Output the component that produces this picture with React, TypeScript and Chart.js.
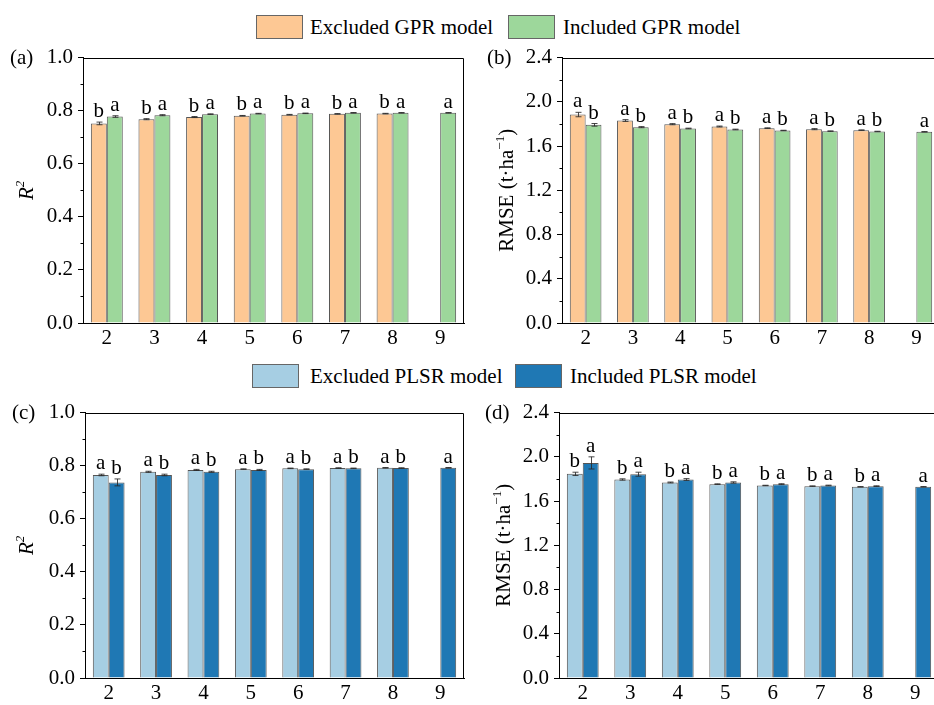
import React, { useEffect, useRef } from 'react';
import { Chart, registerables } from 'chart.js';
Chart.register(...registerables);

const FONT = "'Liberation Serif', 'Times New Roman', serif";

// ---------- DATA ----------
const categories = ['2', '3', '4', '5', '6', '7', '8', '9'];

const gprLabels = ['Excluded GPR model', 'Included GPR model'];
const plsrLabels = ['Excluded PLSR model', 'Included PLSR model'];

// (a) GPR R2
const gprR2Excluded = [0.752, 0.768, 0.776, 0.781, 0.785, 0.788, 0.789, null];
const gprR2Included = [0.778, 0.783, 0.787, 0.789, 0.790, 0.792, 0.792, 0.792];
const gprR2ExcludedErr = [0.005, 0.002, 0.002, 0.001, 0.001, 0.001, 0.001, 0];
const gprR2IncludedErr = [0.003, 0.002, 0.001, 0.001, 0.001, 0.001, 0.001, 0.001];
const gprR2ExcludedLetters = ['b', 'b', 'b', 'b', 'b', 'b', 'b', ''];
const gprR2IncludedLetters = ['a', 'a', 'a', 'a', 'a', 'a', 'a', 'a'];

// (b) GPR RMSE
const gprRmseExcluded = [1.885, 1.831, 1.798, 1.777, 1.762, 1.753, 1.744, null];
const gprRmseIncluded = [1.792, 1.771, 1.759, 1.750, 1.741, 1.735, 1.732, 1.729];
const gprRmseExcludedErr = [0.02, 0.008, 0.005, 0.004, 0.003, 0.005, 0.002, 0];
const gprRmseIncludedErr = [0.012, 0.005, 0.003, 0.003, 0.002, 0.002, 0.002, 0.002];
const gprRmseExcludedLetters = ['a', 'a', 'a', 'a', 'a', 'a', 'a', ''];
const gprRmseIncludedLetters = ['b', 'b', 'b', 'b', 'b', 'b', 'b', 'a'];

// (c) PLSR R2
const plsrR2Excluded = [0.765, 0.777, 0.784, 0.787, 0.790, 0.791, 0.792, null];
const plsrR2Included = [0.737, 0.765, 0.777, 0.784, 0.787, 0.790, 0.791, 0.792];
const plsrR2ExcludedErr = [0.003, 0.002, 0.002, 0.001, 0.001, 0.001, 0.001, 0];
const plsrR2IncludedErr = [0.013, 0.003, 0.002, 0.002, 0.001, 0.001, 0.001, 0.001];
const plsrR2ExcludedLetters = ['a', 'a', 'a', 'a', 'a', 'a', 'a', ''];
const plsrR2IncludedLetters = ['b', 'b', 'b', 'b', 'b', 'b', 'b', 'a'];

// (d) PLSR RMSE
const plsrRmseExcluded = [1.846, 1.795, 1.768, 1.753, 1.741, 1.735, 1.729, null];
const plsrRmseIncluded = [1.945, 1.843, 1.795, 1.768, 1.753, 1.741, 1.735, 1.729];
const plsrRmseExcludedErr = [0.015, 0.006, 0.004, 0.003, 0.002, 0.002, 0.002, 0];
const plsrRmseIncludedErr = [0.055, 0.018, 0.008, 0.006, 0.004, 0.003, 0.003, 0.002];
const plsrRmseExcludedLetters = ['b', 'b', 'b', 'b', 'b', 'b', 'b', ''];
const plsrRmseIncludedLetters = ['a', 'a', 'a', 'a', 'a', 'a', 'a', 'a'];

const r2Ticks = { min: 0, max: 1.0, step: 0.2, minor: 0.1 };
const rmseTicks = { min: 0, max: 2.4, step: 0.4, minor: 0.2 };

// ---------- STYLE ----------
const COLORS = {
  gprEx: '#FDC894',
  gprIn: '#9DD79B',
  plsrEx: '#A6CEE3',
  plsrIn: '#1F78B4',
  border: '#555555',
};

const annotatePlugin = {
  id: 'annotate',
  afterDatasetsDraw(chart: any) {
    const { ctx } = chart;
    const ys = chart.scales.y;
    ctx.save();
    chart.data.datasets.forEach((ds: any, i: number) => {
      const meta = chart.getDatasetMeta(i);
      meta.data.forEach((el: any, j: number) => {
        const v = ds.data[j];
        if (v == null) return;
        const e = ds.errors[j] || 0;
        const x = Math.round(el.x) + 0.5;
        const yt = ys.getPixelForValue(v + e);
        const yb = ys.getPixelForValue(v - e);
        if (e > 0) {
          ctx.strokeStyle = 'rgba(40,40,40,0.85)';
          ctx.lineWidth = 1;
          ctx.beginPath();
          ctx.moveTo(x, yt);
          ctx.lineTo(x, yb);
          ctx.moveTo(x - 3, yt);
          ctx.lineTo(x + 3, yt);
          ctx.moveTo(x - 3, yb);
          ctx.lineTo(x + 3, yb);
          ctx.stroke();
        }
        const letter = ds.letters[j];
        if (letter) {
          ctx.fillStyle = '#000';
          ctx.font = `21px ${FONT}`;
          ctx.textAlign = 'center';
          ctx.textBaseline = 'alphabetic';
          ctx.fillText(letter, el.x, yt - 5);
        }
      });
    });
    ctx.restore();
  },
  afterDraw(chart: any, _args: any, opts: any) {
    const { ctx, chartArea } = chart;
    const ys = chart.scales.y;
    ctx.save();
    // frame top & right
    ctx.strokeStyle = '#000';
    ctx.lineWidth = 1;
    ctx.beginPath();
    const t = Math.round(chartArea.top) + 0.5;
    const r = Math.round(chartArea.right) - 0.5;
    ctx.moveTo(chartArea.left, t);
    ctx.lineTo(r, t);
    ctx.lineTo(r, chartArea.bottom);
    ctx.stroke();
    // minor ticks
    ctx.beginPath();
    const lx = Math.round(chartArea.left) + 0.5;
    for (let v = opts.minor; v < opts.max; v += opts.minor * 2) {
      const y = Math.round(ys.getPixelForValue(v)) + 0.5;
      ctx.moveTo(lx - 3, y);
      ctx.lineTo(lx, y);
    }
    ctx.stroke();
    // panel label
    ctx.fillStyle = '#000';
    ctx.font = `21px ${FONT}`;
    ctx.textAlign = 'left';
    ctx.textBaseline = 'middle';
    ctx.fillText(opts.label, opts.labelX, chartArea.top + 1);
    // axis title
    const cy = (chartArea.top + chartArea.bottom) / 2;
    ctx.translate(opts.titleX, cy);
    ctx.rotate(-Math.PI / 2);
    ctx.textBaseline = 'alphabetic';
    let total = 0;
    const segs = opts.title as { text: string; font: string; dy: number }[];
    segs.forEach((s) => {
      ctx.font = s.font;
      total += ctx.measureText(s.text).width;
    });
    let x = -total / 2;
    segs.forEach((s) => {
      ctx.font = s.font;
      ctx.fillText(s.text, x, s.dy);
      x += ctx.measureText(s.text).width;
    });
    ctx.restore();
  },
};

const r2Title = [
  { text: 'R', font: `italic 21px ${FONT}`, dy: 0 },
  { text: '2', font: `italic 13px ${FONT}`, dy: -9 },
];
const rmseTitle = [
  { text: 'RMSE (t\u00B7ha', font: `21px ${FONT}`, dy: 0 },
  { text: '\u22121', font: `13px ${FONT}`, dy: -9 },
  { text: ')', font: `21px ${FONT}`, dy: 0 },
];

type PanelProps = {
  left: number; top: number; width: number; height: number;
  yWidth: number; xHeight: number; padTop: number; padRight: number;
  ex: (number | null)[]; inc: (number | null)[];
  exErr: number[]; incErr: number[];
  exLetters: string[]; incLetters: string[];
  labels: string[]; colors: [string, string];
  ticks: { min: number; max: number; step: number; minor: number };
  label: string; labelX: number; title: any; titleX: number;
};

function Panel(p: PanelProps) {
  const ref = useRef<HTMLCanvasElement>(null);
  useEffect(() => {
    if (!ref.current) return;
    const chart = new Chart(ref.current, {
      type: 'bar',
      data: {
        labels: categories,
        datasets: [
          {
            label: p.labels[0], data: p.ex as any, backgroundColor: p.colors[0],
            borderColor: COLORS.border, borderWidth: 1,
            errors: p.exErr, letters: p.exLetters,
          } as any,
          {
            label: p.labels[1], data: p.inc as any, backgroundColor: p.colors[1],
            borderColor: COLORS.border, borderWidth: 1,
            errors: p.incErr, letters: p.incLetters,
          } as any,
        ],
      },
      options: {
        responsive: false,
        animation: false,
        events: [],
        devicePixelRatio: 1,
        layout: { padding: { top: p.padTop, right: p.padRight, left: 0, bottom: 0 } },
        datasets: { bar: { categoryPercentage: 0.67, barPercentage: 1.0 } },
        plugins: {
          legend: { display: false },
          tooltip: { enabled: false },
          annotate: {
            minor: p.ticks.minor, max: p.ticks.max,
            label: p.label, labelX: p.labelX, title: p.title, titleX: p.titleX,
          },
        } as any,
        scales: {
          x: {
            grid: { display: false, drawTicks: false },
            border: { display: true, color: '#000', width: 1 },
            ticks: { color: '#000', font: { family: FONT, size: 21 }, padding: 3, maxRotation: 0 },
            afterFit: (s: any) => { s.height = p.xHeight; },
          },
          y: {
            min: p.ticks.min, max: p.ticks.max,
            grid: { drawOnChartArea: false, drawTicks: true, tickLength: 5, tickColor: '#000' },
            border: { display: true, color: '#000', width: 1 },
            ticks: {
              stepSize: p.ticks.step, color: '#000', padding: 5,
              font: { family: FONT, size: 21 },
              callback: (v: any) => Number(v).toFixed(1),
            },
            afterFit: (s: any) => { s.width = p.yWidth; },
          },
        },
      },
      plugins: [annotatePlugin as any],
    });
    return () => chart.destroy();
  }, []);
  return (
    <canvas
      ref={ref}
      width={p.width}
      height={p.height}
      style={{ position: 'absolute', left: p.left, top: p.top, width: p.width, height: p.height }}
    />
  );
}

function LegendItem({ x, y, color, text, textX }: { x: number; y: number; color: string; text: string; textX: number }) {
  return (
    <>
      <div style={{
        position: 'absolute', left: x, top: y, width: 47, height: 24,
        background: color, border: '1px solid #666', boxSizing: 'border-box',
      }} />
      <div style={{
        position: 'absolute', left: textX, top: y - 2, height: 28, lineHeight: '28px',
        fontFamily: FONT, fontSize: 21, color: '#000', whiteSpace: 'nowrap',
      }}>{text}</div>
    </>
  );
}

export default function App() {
  return (
    <div style={{ position: 'fixed', left: 0, top: 0, width: 934, height: 705, overflow: 'hidden', background: '#fff' }}>
      <LegendItem x={256} y={15} color={COLORS.gprEx} text={gprLabels[0]} textX={310} />
      <LegendItem x={508} y={15} color={COLORS.gprIn} text={gprLabels[1]} textX={563} />
      <LegendItem x={252} y={364} color={COLORS.plsrEx} text={plsrLabels[0]} textX={310} />
      <LegendItem x={515} y={364} color={COLORS.plsrIn} text={plsrLabels[1]} textX={570} />

      <Panel left={0} top={40} width={470} height={320} yWidth={83} xHeight={37} padTop={16} padRight={6}
        ex={gprR2Excluded} inc={gprR2Included} exErr={gprR2ExcludedErr} incErr={gprR2IncludedErr}
        exLetters={gprR2ExcludedLetters} incLetters={gprR2IncludedLetters}
        labels={gprLabels} colors={[COLORS.gprEx, COLORS.gprIn]} ticks={r2Ticks}
        label="(a)" labelX={10} title={r2Title} titleX={33} />
      <Panel left={464} top={40} width={480} height={320} yWidth={98} xHeight={37} padTop={16} padRight={4}
        ex={gprRmseExcluded} inc={gprRmseIncluded} exErr={gprRmseExcludedErr} incErr={gprRmseIncludedErr}
        exLetters={gprRmseExcludedLetters} incLetters={gprRmseIncludedLetters}
        labels={gprLabels} colors={[COLORS.gprEx, COLORS.gprIn]} ticks={rmseTicks}
        label="(b)" labelX={23} title={rmseTitle} titleX={49} />
      <Panel left={0} top={395} width={470} height={320} yWidth={85} xHeight={37} padTop={15} padRight={6}
        ex={plsrR2Excluded} inc={plsrR2Included} exErr={plsrR2ExcludedErr} incErr={plsrR2IncludedErr}
        exLetters={plsrR2ExcludedLetters} incLetters={plsrR2IncludedLetters}
        labels={plsrLabels} colors={[COLORS.plsrEx, COLORS.plsrIn]} ticks={r2Ticks}
        label="(c)" labelX={12} title={r2Title} titleX={33} />
      <Panel left={464} top={395} width={480} height={320} yWidth={95} xHeight={37} padTop={15} padRight={5}
        ex={plsrRmseExcluded} inc={plsrRmseIncluded} exErr={plsrRmseExcludedErr} incErr={plsrRmseIncludedErr}
        exLetters={plsrRmseExcludedLetters} incLetters={plsrRmseIncludedLetters}
        labels={plsrLabels} colors={[COLORS.plsrEx, COLORS.plsrIn]} ticks={rmseTicks}
        label="(d)" labelX={21} title={rmseTitle} titleX={46} />
    </div>
  );
}
